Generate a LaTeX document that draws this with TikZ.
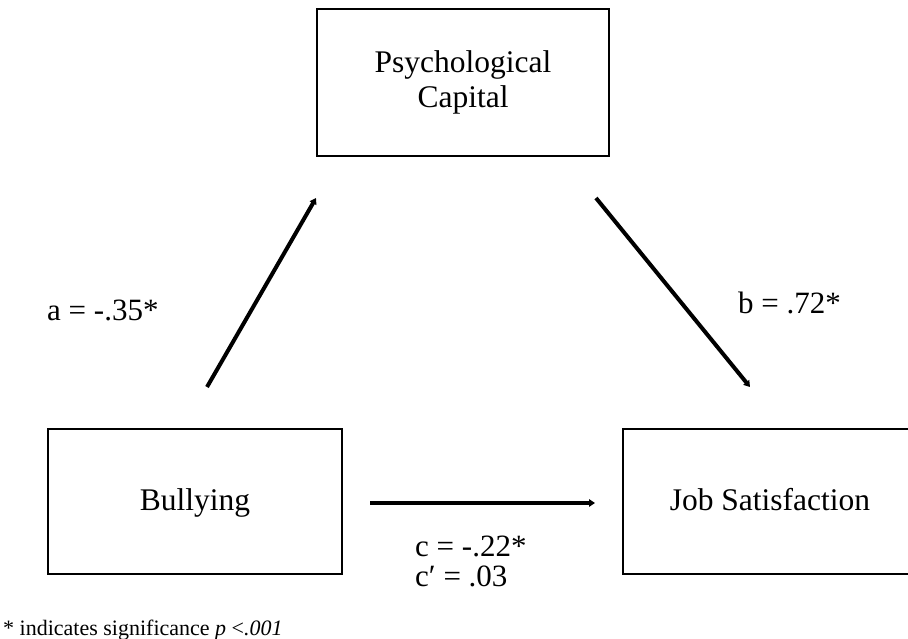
\documentclass[tikz,border=0pt]{standalone}
\usepackage{fontspec}
\setmainfont{Liberation Serif}
\usetikzlibrary{arrows.meta}
\begin{document}
\begin{tikzpicture}[x=1pt,y=-1pt,
  varbox/.style={draw=black,line width=2.5pt,inner sep=0pt,align=center,font=\fontsize{31.5}{34.5}\selectfont},
  onebox/.style={varbox,minimum width=294pt,minimum height=145pt,text height=24pt,text depth=7pt},
  path/.style={line width=4pt,-{Triangle[length=6pt,width=7.5pt]}},
  lbl/.style={inner sep=0pt,anchor=base west,font=\fontsize{31}{30}\selectfont}]
\useasboundingbox (0,0) rectangle (908,639);
\fill[white] (0,0) rectangle (908,639);
\node[varbox,minimum width=292pt,minimum height=147pt] (pc) at (463,82.5) {Psychological\\Capital};
\node[onebox] (bu) at (195,501.5) {Bullying};
\node[onebox] (js) at (770,501.5) {Job Satisfaction};
\coordinate (a1) at (207,387);
\coordinate (a2) at (316,198);
\coordinate (b1) at (596,198);
\coordinate (b2) at (750,387);
\coordinate (c1) at (370,503);
\coordinate (c2) at (595,503);
\draw[path] (a1) -- (a2);
\draw[path] (b1) -- (b2);
\draw[path,line width=3.5pt] (c1) -- (c2);
\node[lbl] (la) at (47,320) {a = -.35*};
\node[lbl] (lb) at (738,313) {b = .72*};
\node[lbl] (lc) at (415,556) {c = -.22*};
\node[lbl] (lcp) at (415,586) {c′ = .03};
\node[inner sep=0pt,anchor=base west,font=\fontsize{22}{24}\selectfont] (note) at (3,635) {* indicates significance \textit{p} <\textit{.001}};
\end{tikzpicture}
\end{document}
